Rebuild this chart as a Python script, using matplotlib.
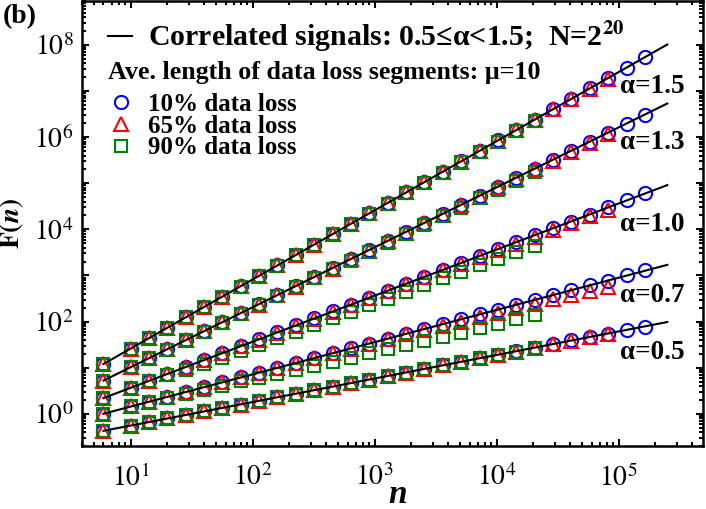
import numpy as np
import matplotlib
matplotlib.use('Agg')
import matplotlib.pyplot as plt
from matplotlib.lines import Line2D
from matplotlib.ticker import LogLocator, FuncFormatter, NullFormatter

plt.rcParams['font.family'] = ['Liberation Serif', 'DejaVu Serif']
plt.rcParams['mathtext.fontset'] = 'stix'

# scales n (box sizes)
n = np.array([6, 10, 14.1, 20, 28.3, 40, 56.6, 80, 113, 160, 226, 320, 453, 640,
              905, 1280, 1810, 2560, 3620, 5120, 7240, 10240, 14480, 20480,
              28960, 40960, 57920, 81920, 115850, 163840])

# log10 F(n)
# 10% loss (circles), 65% loss (triangles), 90% loss (squares)
c15 = [1.08, 1.41, 1.64, 1.86, 2.09, 2.32, 2.54, 2.77, 2.99, 3.22, 3.45, 3.67, 3.90, 4.12, 4.35,
       4.57, 4.80, 5.03, 5.25, 5.48, 5.70, 5.93, 6.15, 6.38, 6.61, 6.83, 7.06, 7.28, 7.51, 7.73]
t15 = [1.08, 1.41, 1.64, 1.86, 2.09, 2.32, 2.54, 2.77, 2.99, 3.22, 3.45, 3.67, 3.90, 4.12, 4.35,
       4.57, 4.80, 5.02, 5.25, 5.47, 5.70, 5.92, 6.15, 6.37, 6.60, 6.82, 7.05, 7.27]
s15 = [1.08, 1.41, 1.64, 1.86, 2.09, 2.31, 2.54, 2.76, 2.99, 3.21, 3.44, 3.66, 3.89, 4.11, 4.34,
       4.56, 4.78, 5.01, 5.23, 5.46, 5.68, 5.90, 6.13, 6.35]

c13 = [0.72, 1.01, 1.20, 1.40, 1.60, 1.79, 1.99, 2.18, 2.38, 2.57, 2.77, 2.97, 3.16, 3.36, 3.55,
       3.75, 3.94, 4.14, 4.33, 4.53, 4.73, 4.92, 5.12, 5.31, 5.51, 5.70, 5.90, 6.10, 6.29, 6.49]
t13 = [0.72, 1.01, 1.20, 1.40, 1.60, 1.79, 1.98, 2.18, 2.37, 2.57, 2.76, 2.96, 3.15, 3.35, 3.54,
       3.74, 3.93, 4.13, 4.32, 4.52, 4.71, 4.91, 5.10, 5.30, 5.49, 5.68, 5.88, 6.07]
s13 = [0.72, 1.01, 1.20, 1.39, 1.59, 1.78, 1.97, 2.16, 2.36, 2.55, 2.74, 2.94, 3.13, 3.32, 3.51,
       3.71, 3.90, 4.09, 4.28, 4.47, 4.67, 4.86, 5.05, 5.24]

c10 = [0.34, 0.56, 0.71, 0.86, 1.01, 1.16, 1.31, 1.47, 1.62, 1.77, 1.92, 2.07, 2.22, 2.37, 2.52,
       2.67, 2.82, 2.97, 3.12, 3.27, 3.42, 3.57, 3.72, 3.87, 4.02, 4.17, 4.32, 4.48, 4.63, 4.78]
t10 = [0.34, 0.56, 0.71, 0.86, 1.01, 1.16, 1.31, 1.46, 1.61, 1.76, 1.91, 2.06, 2.21, 2.36, 2.51,
       2.66, 2.81, 2.96, 3.11, 3.25, 3.40, 3.55, 3.69, 3.84, 3.98, 4.13, 4.28, 4.43]
s10 = [0.34, 0.56, 0.70, 0.83, 0.96, 1.09, 1.22, 1.36, 1.50, 1.64, 1.78, 1.92, 2.07, 2.21, 2.36,
       2.50, 2.65, 2.79, 2.94, 3.08, 3.22, 3.36, 3.50, 3.64]

c07 = [0.00, 0.16, 0.26, 0.37, 0.47, 0.58, 0.68, 0.79, 0.89, 1.00, 1.10, 1.21, 1.31, 1.42, 1.52,
       1.63, 1.74, 1.84, 1.95, 2.05, 2.16, 2.26, 2.37, 2.47, 2.58, 2.68, 2.79, 2.89, 3.00, 3.11]
t07 = [0.00, 0.16, 0.26, 0.37, 0.47, 0.58, 0.68, 0.79, 0.89, 1.00, 1.10, 1.20, 1.31, 1.41, 1.51,
       1.62, 1.72, 1.82, 1.91, 1.99, 2.09, 2.19, 2.29, 2.38, 2.48, 2.57, 2.66, 2.76]
s07 = [0.00, 0.16, 0.25, 0.35, 0.43, 0.52, 0.60, 0.70, 0.78, 0.87, 0.95, 1.04, 1.13, 1.22, 1.31,
       1.41, 1.50, 1.58, 1.67, 1.76, 1.86, 1.95, 2.05, 2.14]

c05 = [-0.37, -0.26, -0.18, -0.10, -0.03, 0.05, 0.13, 0.20, 0.28, 0.36, 0.43, 0.51, 0.59, 0.66, 0.74,
       0.82, 0.89, 0.97, 1.05, 1.12, 1.20, 1.28, 1.36, 1.43, 1.51, 1.59, 1.66, 1.74, 1.82, 1.89]
t05 = [-0.37, -0.26, -0.18, -0.10, -0.03, 0.05, 0.13, 0.20, 0.28, 0.36, 0.43, 0.51, 0.59, 0.66, 0.74,
       0.82, 0.89, 0.97, 1.05, 1.12, 1.20, 1.28, 1.35, 1.43, 1.51, 1.58, 1.66, 1.73]
s05 = [-0.37, -0.26, -0.18, -0.10, -0.03, 0.05, 0.13, 0.20, 0.28, 0.36, 0.43, 0.51, 0.59, 0.66, 0.74,
       0.82, 0.89, 0.97, 1.05, 1.12, 1.20, 1.28, 1.35, 1.43]

# theoretical power-law lines (end points)
line_n = [6, 2.5e5]
line15 = [1.08, 8.01]
line13 = [0.72, 6.73]
line10 = [0.34, 4.96]
line07 = [0.00, 3.23]
line05 = [-0.37, 1.99]

alpha_labels = ['1.5', '1.3', '1.0', '0.7', '0.5']
label_y = [0.807, 0.683, 0.497, 0.339, 0.211]

fig = plt.figure(figsize=(7.06, 5.09), dpi=100)
ax = fig.add_axes([0.1161, 0.1238, 0.8796, 0.8743])

groups = [(c15, t15, s15, line15), (c13, t13, s13, line13), (c10, t10, s10, line10),
          (c07, t07, s07, line07), (c05, t05, s05, line05)]

ms = 9.5
for c, t, s, ln in groups:
    ax.plot(n[:len(c)], 10**np.array(c), 'o', ms=ms, mfc='none', mec='blue', mew=1.5, zorder=2)
    ax.plot(n[:len(t)], 10**np.array(t), '^', ms=ms, mfc='none', mec='red', mew=1.5, zorder=3)
    ax.plot(n[:len(s)], 10**np.array(s), 's', ms=ms - 1, mfc='none', mec='green', mew=1.5, zorder=4)
    ax.plot(line_n, 10**np.array(ln), '-', color='black', lw=1.5, zorder=5)

for lab, yy in zip(alpha_labels, label_y):
    ax.text(0.866, yy, 'α=' + lab, transform=ax.transAxes, fontsize=19.5,
            fontweight='bold', va='center', ha='left')

ax.set_xscale('log')
ax.set_yscale('log')
ax.set_xlim(4, 4.9e5)
ax.set_ylim(0.2, 9e8)

ax.xaxis.set_major_locator(LogLocator(base=10, numticks=100))
ax.xaxis.set_minor_locator(LogLocator(base=10, subs=np.arange(2, 10), numticks=100))
ax.yaxis.set_major_locator(LogLocator(base=10, numticks=100))
ax.yaxis.set_minor_locator(LogLocator(base=10, subs=np.arange(2, 10), numticks=100))
ax.xaxis.set_minor_formatter(NullFormatter())
ax.yaxis.set_minor_formatter(NullFormatter())

def xfmt(v, pos):
    e = int(round(np.log10(v)))
    return r'$10^{%d}$' % e

def yfmt(v, pos):
    e = int(round(np.log10(v)))
    if e % 2 == 0:
        return r'$10^{%d}$' % e
    return ''

ax.xaxis.set_major_formatter(FuncFormatter(xfmt))
ax.yaxis.set_major_formatter(FuncFormatter(yfmt))

ax.tick_params(which='both', direction='in', top=True, right=True, width=1.5)
ax.tick_params(which='major', length=5, labelsize=20)
ax.tick_params(axis='x', which='major', pad=13)
ax.tick_params(axis='y', which='major', pad=6)
ax.tick_params(which='minor', length=3)
for sp in ax.spines.values():
    sp.set_linewidth(1.8)

ax.text(0.508, -0.143, 'n', transform=ax.transAxes, fontsize=24, fontweight='bold',
        fontstyle='italic', ha='center', va='bottom')
ax.set_ylabel(r'$\mathbf{F(}\mathbfit{n}\mathbf{)}$', fontsize=20)
ax.yaxis.set_label_coords(-0.090, 0.5)

# legend
h1 = [Line2D([], [], color='black', lw=1.5)]
leg1 = ax.legend(h1, ['Correlated signals: 0.5≤α<1.5;  N=2$^{\\mathbf{20}}$'],
                 loc='center left', bbox_to_anchor=(0.042, 0.919), frameon=False,
                 prop={'size': 21.5, 'weight': 'bold'}, handlelength=0.81,
                 handletextpad=0.54, borderpad=0, borderaxespad=0)
ax.add_artist(leg1)
ax.text(0.042, 0.840, 'Ave. length of data loss segments: μ=10', transform=ax.transAxes,
        fontsize=18.7, fontweight='bold', va='center', ha='left')
h2 = [Line2D([], [], marker='o', ls='none', ms=ms, mfc='none', mec='blue', mew=1.5),
      Line2D([], [], marker='^', ls='none', ms=ms, mfc='none', mec='red', mew=1.5),
      Line2D([], [], marker='s', ls='none', ms=ms - 1, mfc='none', mec='green', mew=1.5)]
ax.legend(h2, ['10% data loss', '65% data loss', '90% data loss'], loc='center left',
          bbox_to_anchor=(0.042, 0.719), frameon=False, prop={'size': 18, 'weight': 'bold'},
          handlelength=1.04, handletextpad=0.56, borderpad=0, borderaxespad=0,
          labelspacing=-0.05)

fig.text(0.004, 0.992, '(b)', fontsize=20, fontweight='bold', va='top', ha='left')

fig.savefig('out.png', dpi=100)
